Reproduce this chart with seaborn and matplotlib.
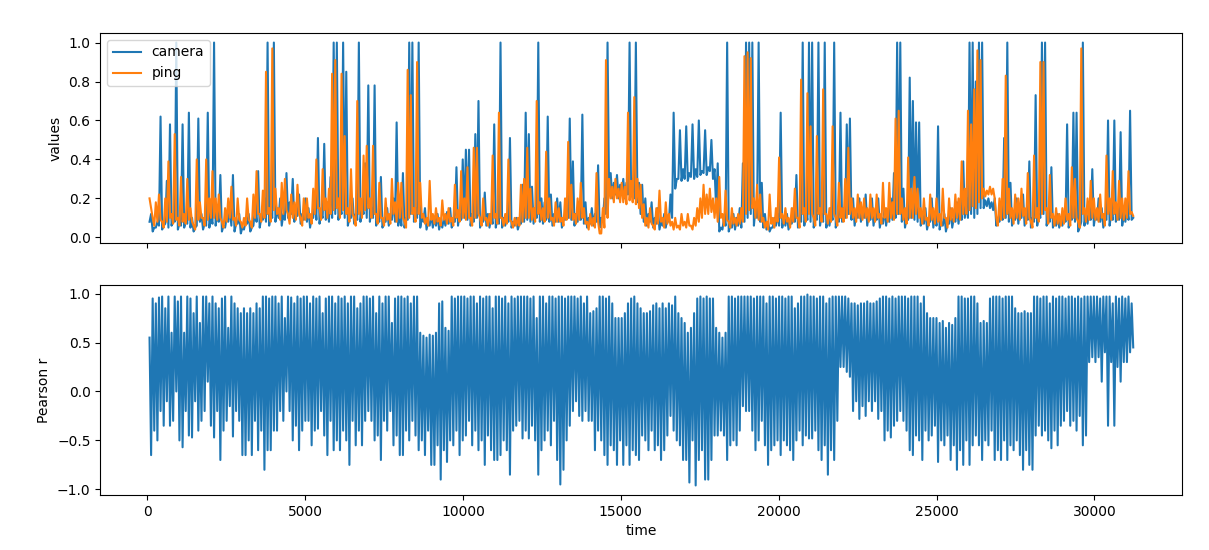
import numpy as np
import pandas as pd
import matplotlib
matplotlib.use("Agg")
import matplotlib.pyplot as plt
import seaborn as sns

# Values read per time bin (~100 time units each, bins start at t=70):
# the highest and lowest level each line reaches inside the bin, in hundredths.
t_start, t_end = 70, 31230

camera_max = [
    12, 5, 8, 62, 6, 29, 58, 10, 100, 7,
    58, 8, 64, 10, 5, 61, 12, 7, 64, 10,
    100, 12, 32, 6, 10, 15, 32, 7, 12, 5,
    8, 12, 5, 15, 34, 10, 20, 100, 12, 100,
    15, 20, 12, 33, 18, 30, 15, 22, 12, 20,
    15, 10, 20, 51, 12, 48, 18, 31, 100, 100,
    15, 100, 85, 10, 20, 12, 100, 15, 38, 78,
    15, 78, 10, 31, 8, 15, 10, 20, 59, 12,
    33, 10, 100, 100, 15, 100, 10, 15, 8, 12,
    10, 12, 8, 10, 13, 15, 8, 36, 12, 40,
    45, 45, 12, 53, 70, 10, 23, 12, 10, 58,
    10, 100, 10, 12, 51, 8, 10, 7, 27, 64,
    53, 26, 15, 100, 20, 18, 62, 22, 12, 20,
    18, 10, 20, 61, 39, 12, 18, 63, 18, 10,
    15, 12, 37, 10, 20, 100, 33, 28, 32, 27,
    30, 28, 100, 30, 100, 28, 27, 20, 12, 18,
    10, 15, 8, 12, 10, 22, 64, 30, 55, 35,
    57, 33, 58, 35, 60, 34, 55, 36, 50, 35,
    38, 5, 10, 100, 6, 12, 10, 15, 38, 100,
    100, 100, 15, 100, 28, 12, 8, 5, 10, 12,
    64, 10, 12, 8, 15, 32, 10, 100, 12, 100,
    100, 10, 100, 12, 100, 10, 12, 100, 10, 64,
    15, 58, 61, 20, 12, 20, 15, 22, 12, 20,
    12, 20, 10, 15, 12, 20, 33, 100, 100, 25,
    10, 82, 70, 59, 59, 12, 15, 8, 20, 12,
    57, 8, 12, 7, 15, 10, 18, 15, 39, 20,
    100, 100, 80, 100, 100, 19, 20, 18, 20, 10,
    15, 51, 100, 28, 12, 20, 15, 22, 12, 39,
    10, 73, 12, 100, 100, 12, 36, 10, 12, 10,
    12, 58, 10, 64, 64, 5, 100, 12, 15, 35,
    12, 20, 15, 10, 60, 12, 60, 15, 54, 12,
    15, 65, 10,
]
camera_min = [
    8, 3, 5, 6, 4, 7, 5, 6, 8, 4,
    6, 5, 7, 5, 3, 6, 8, 4, 6, 5,
    7, 6, 8, 3, 5, 8, 6, 3, 7, 2,
    4, 7, 3, 6, 8, 5, 9, 8, 6, 10,
    8, 10, 6, 9, 10, 12, 8, 11, 7, 9,
    8, 5, 10, 9, 7, 10, 9, 8, 10, 12,
    9, 12, 10, 6, 10, 7, 9, 8, 12, 10,
    8, 10, 6, 8, 5, 8, 6, 9, 8, 6,
    6, 5, 9, 12, 8, 10, 5, 8, 4, 6,
    5, 6, 4, 5, 6, 7, 5, 8, 6, 9,
    10, 9, 6, 8, 10, 5, 8, 6, 5, 7,
    5, 7, 5, 6, 8, 5, 6, 4, 7, 8,
    9, 8, 7, 10, 8, 7, 9, 8, 6, 8,
    8, 5, 9, 10, 9, 6, 8, 9, 7, 5,
    7, 6, 8, 5, 9, 12, 22, 20, 22, 20,
    22, 20, 22, 21, 20, 18, 12, 8, 6, 8,
    5, 7, 4, 6, 5, 8, 10, 25, 30, 29,
    30, 29, 31, 30, 31, 32, 33, 32, 34, 30,
    15, 3, 4, 6, 3, 5, 4, 6, 5, 8,
    10, 12, 6, 10, 8, 5, 4, 3, 5, 6,
    6, 5, 6, 4, 7, 8, 5, 8, 6, 9,
    8, 5, 9, 6, 8, 5, 6, 9, 5, 8,
    8, 10, 12, 9, 6, 10, 8, 10, 6, 9,
    6, 9, 5, 7, 6, 8, 9, 10, 12, 8,
    5, 9, 10, 9, 8, 6, 7, 4, 8, 5,
    6, 4, 6, 3, 7, 5, 8, 7, 9, 10,
    10, 12, 10, 12, 15, 15, 16, 15, 14, 6,
    8, 9, 10, 8, 6, 9, 7, 10, 6, 9,
    5, 8, 6, 10, 12, 6, 8, 5, 6, 5,
    6, 8, 5, 9, 8, 3, 8, 6, 7, 9,
    6, 9, 8, 5, 9, 6, 9, 8, 9, 6,
    8, 9, 9,
]

ping_max = [
    20, 10, 18, 22, 8, 20, 39, 12, 53, 10,
    31, 12, 30, 15, 6, 40, 18, 10, 40, 20,
    34, 20, 22, 8, 15, 20, 26, 10, 20, 8,
    10, 20, 8, 22, 34, 12, 24, 85, 15, 97,
    25, 15, 28, 30, 12, 22, 18, 27, 10, 20,
    20, 12, 25, 40, 15, 35, 20, 25, 84, 91,
    20, 84, 52, 15, 35, 10, 70, 20, 42, 47,
    20, 47, 12, 28, 10, 20, 12, 30, 18, 28,
    28, 8, 86, 73, 15, 90, 28, 12, 10, 29,
    12, 15, 10, 19, 12, 15, 10, 27, 14, 34,
    20, 36, 10, 46, 46, 10, 20, 10, 12, 42,
    12, 64, 10, 12, 40, 8, 10, 10, 27, 30,
    46, 25, 15, 70, 18, 15, 44, 20, 10, 18,
    15, 10, 20, 49, 27, 12, 20, 28, 15, 8,
    12, 10, 33, 2, 15, 91, 30, 26, 30, 25,
    28, 26, 64, 29, 72, 30, 27, 17, 10, 15,
    6, 15, 24, 10, 18, 12, 8, 10, 6, 12,
    8, 12, 6, 10, 15, 20, 27, 22, 25, 20,
    20, 31, 12, 24, 8, 15, 10, 12, 15, 93,
    95, 92, 20, 27, 22, 10, 8, 22, 10, 15,
    41, 12, 15, 10, 15, 25, 10, 81, 15, 74,
    57, 10, 52, 15, 76, 12, 15, 57, 10, 28,
    15, 30, 46, 20, 15, 22, 18, 20, 15, 22,
    15, 22, 12, 28, 15, 28, 18, 61, 65, 20,
    15, 41, 25, 31, 25, 15, 20, 10, 22, 15,
    20, 12, 25, 10, 20, 15, 22, 20, 39, 25,
    65, 58, 76, 96, 91, 25, 24, 26, 25, 10,
    20, 30, 83, 25, 15, 22, 20, 25, 15, 33,
    8, 42, 15, 90, 90, 15, 32, 12, 15, 12,
    15, 20, 12, 36, 30, 8, 97, 15, 20, 29,
    20, 15, 22, 12, 42, 20, 34, 18, 29, 20,
    20, 34, 13,
]
ping_min = [
    15, 6, 8, 9, 5, 8, 10, 7, 9, 6,
    8, 7, 9, 8, 4, 9, 10, 6, 9, 10,
    10, 9, 10, 5, 8, 10, 9, 6, 9, 5,
    6, 9, 5, 10, 12, 8, 10, 12, 8, 14,
    12, 9, 12, 14, 7, 10, 9, 12, 6, 9,
    10, 7, 12, 15, 9, 14, 10, 12, 14, 15,
    10, 14, 12, 8, 12, 6, 12, 10, 14, 15,
    10, 12, 7, 10, 6, 9, 7, 12, 8, 10,
    10, 5, 10, 12, 8, 12, 10, 7, 6, 9,
    7, 8, 6, 9, 7, 8, 6, 10, 8, 10,
    9, 10, 6, 10, 12, 6, 9, 6, 7, 10,
    7, 10, 6, 7, 9, 5, 6, 6, 8, 10,
    10, 9, 8, 12, 9, 8, 10, 9, 6, 8,
    8, 6, 9, 10, 9, 7, 9, 10, 7, 4,
    6, 5, 8, 2, 5, 10, 20, 18, 20, 18,
    18, 17, 19, 18, 17, 15, 10, 6, 5, 7,
    4, 7, 8, 5, 7, 6, 4, 5, 4, 6,
    5, 6, 4, 6, 8, 10, 12, 12, 13, 10,
    8, 10, 6, 9, 5, 7, 6, 7, 8, 12,
    14, 15, 10, 9, 8, 5, 4, 7, 5, 8,
    10, 7, 8, 5, 8, 10, 5, 12, 8, 12,
    12, 6, 12, 8, 12, 7, 8, 12, 6, 10,
    8, 10, 12, 10, 8, 10, 9, 10, 8, 10,
    8, 10, 7, 10, 8, 10, 9, 12, 12, 9,
    7, 10, 10, 12, 10, 7, 9, 6, 9, 7,
    8, 6, 10, 5, 9, 8, 10, 9, 12, 12,
    14, 16, 15, 18, 20, 21, 22, 22, 20, 6,
    9, 10, 12, 10, 7, 10, 9, 11, 7, 10,
    5, 10, 8, 12, 14, 7, 10, 6, 7, 6,
    7, 9, 6, 10, 10, 5, 12, 8, 9, 10,
    9, 8, 10, 6, 12, 9, 12, 9, 10, 9,
    10, 12, 11,
]

pearson_max = [
    55, 95, 90, 96, 97, 85, 97, 60, 97, 92,
    97, 60, 97, 95, 80, 97, 70, 97, 97, 90,
    97, 90, 85, 95, 97, 65, 97, 90, 85, 80,
    85, 80, 85, 80, 90, 85, 97, 97, 95, 97,
    97, 90, 97, 75, 97, 96, 90, 97, 95, 97,
    97, 90, 97, 95, 97, 80, 95, 97, 97, 90,
    97, 95, 97, 90, 97, 97, 85, 90, 97, 97,
    95, 97, 80, 97, 90, 97, 97, 70, 95, 97,
    97, 95, 97, 90, 97, 97, 60, 57, 55, 58,
    57, 60, 90, 92, 65, 62, 97, 95, 97, 97,
    97, 95, 97, 97, 90, 97, 95, 97, 97, 85,
    97, 97, 95, 97, 90, 97, 95, 97, 97, 97,
    97, 95, 97, 75, 97, 97, 90, 97, 97, 95,
    97, 97, 95, 97, 97, 97, 95, 97, 90, 97,
    80, 82, 85, 97, 97, 95, 97, 90, 75, 75,
    75, 80, 90, 95, 97, 90, 85, 80, 80, 82,
    88, 90, 85, 90, 85, 90, 88, 97, 80, 75,
    70, 60, 65, 80, 95, 97, 95, 97, 95, 95,
    65, 60, 55, 60, 97, 97, 95, 97, 97, 97,
    97, 97, 95, 97, 97, 97, 90, 97, 97, 95,
    97, 97, 95, 97, 97, 85, 90, 97, 97, 99,
    97, 97, 95, 97, 97, 90, 95, 97, 97, 97,
    97, 97, 95, 90, 90, 88, 90, 90, 92, 90,
    90, 92, 95, 97, 97, 95, 97, 95, 97, 97,
    97, 95, 97, 97, 97, 90, 97, 80, 75, 75,
    75, 70, 72, 65, 70, 68, 75, 97, 97, 95,
    95, 97, 97, 90, 70, 72, 70, 95, 97, 97,
    97, 95, 97, 97, 97, 85, 80, 80, 82, 80,
    80, 97, 97, 95, 97, 97, 90, 97, 95, 97,
    97, 95, 97, 97, 95, 97, 95, 97, 97, 97,
    97, 97, 95, 97, 97, 97, 90, 97, 95, 97,
    95, 97, 90,
]
pearson_min = [
    -65, -40, -50, -20, -35, -10, -35, -30, 0, -50,
    -57, -20, -45, -47, -10, -40, -30, -20, 10, -35,
    -47, -20, -70, -40, -30, -15, -46, -20, -30, -65,
    -65, -50, -65, -30, -60, -40, -80, -60, -60, -40,
    -40, -20, -30, 0, -20, -50, -35, -60, -40, -30,
    -30, -55, -40, -38, -20, -45, -65, -30, -60, -50,
    -60, -40, -50, -75, -30, -55, -40, -55, -30, -20,
    -30, -50, -45, -70, -30, -40, -20, -55, -45, -65,
    -65, -40, -50, -30, -45, -60, -50, -65, -40, -75,
    -75, -55, -90, -60, -72, -50, -55, -40, -65, -50,
    -45, -30, -55, -40, -60, -50, -75, -45, -60, -70,
    -70, -65, -50, -60, -85, -40, -35, -30, -48, -40,
    -48, -35, -50, -85, -60, -50, -40, -55, -30, -70,
    -95, -80, -50, -35, -20, -10, -25, -30, -20, -30,
    -30, -60, -40, -50, -65, -75, -55, -60, -75, -50,
    -75, -55, -75, -60, -65, -70, -45, -50, -60, -40,
    -60, -55, -70, -60, -45, -25, -40, -50, -55, -70,
    -70, -93, -50, -96, -70, -60, -90, -90, -70, -45,
    -45, -40, -45, -70, -55, -50, -55, -40, -15, -20,
    -20, -40, -60, -50, -30, -55, -75, -60, -55, -50,
    -65, -50, -55, -60, -70, -50, -40, -55, -45, -48,
    -48, -40, -60, -70, -55, -85, -60, -70, -30, 25,
    25, 20, 15, -20, -10, -28, -15, -25, -10, -20,
    -10, -28, -20, -50, -40, -47, -35, -30, -20, -30,
    -40, -60, -65, -45, -50, -70, -40, -50, -45, -35,
    -72, -50, -55, -45, -70, -55, -80, -60, -75, -50,
    -75, -55, -45, -55, -70, -50, -55, -40, -70, -60,
    -70, -50, -70, -55, -60, -50, -65, -80, -60, -75,
    -80, -45, -35, -45, -40, -50, -58, -40, -55, -35,
    -30, -20, -35, -30, -40, -25, -55, -45, 30, 35,
    30, 35, 10, 40, -35, 30, -35, 25, 10, 30,
    30, 40, 45,
]

for arr in (camera_max, camera_min, ping_max, ping_min, pearson_max, pearson_min):
    assert len(arr) == 313, len(arr)


def bin_trace(hi, lo, first="hi"):
    """Line through each bin's extremes: max then min (or min then max)."""
    hi = np.asarray(hi, float) / 100.0
    lo = np.asarray(lo, float) / 100.0
    pair = (hi, lo) if first == "hi" else (lo, hi)
    return np.column_stack(pair).ravel()


cam = bin_trace(camera_max, camera_min, first="lo")
png = bin_trace(ping_max, ping_min, first="hi")
r = bin_trace(pearson_max, pearson_min, first="hi")
time = np.linspace(t_start, t_end, len(cam))

series_names = ["camera", "ping"]
colors = ["#1f77b4", "#ff7f0e"]

fig, (ax1, ax2) = plt.subplots(2, 1, figsize=(12.09, 5.5), dpi=100, sharex=True)
fig.subplots_adjust(left=0.083, right=0.978, top=0.94, bottom=0.10, hspace=0.2)

df_top = pd.DataFrame({"time": time, "camera": cam, "ping": png})
for name, col in zip(series_names, colors):
    sns.lineplot(data=df_top, x="time", y=name, ax=ax1, color=col,
                 linewidth=1.5, label=name)
ax1.set_ylabel("values")
ax1.set_xlabel("")
ax1.legend(loc="upper left")

df_r = pd.DataFrame({"time": time, "r": r})
sns.lineplot(data=df_r, x="time", y="r", ax=ax2, color=colors[0], linewidth=1.5)
ax2.set_ylabel("Pearson r")
ax2.set_xlabel("time")

fig.savefig("out.png", dpi=100)
